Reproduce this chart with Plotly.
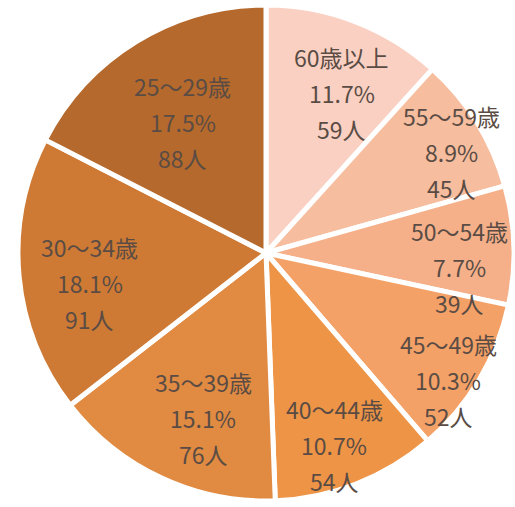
import math
import plotly.graph_objects as go

# Age groups, clockwise from 12 o'clock
groups = ["60歳以上", "55～59歳", "50～54歳", "45～49歳", "40～44歳", "35～39歳", "30～34歳", "25～29歳"]
counts = [59, 45, 39, 52, 54, 76, 91, 88]
colors = ["#F9D0C2", "#F6BD9E", "#F5B08A", "#F4A167", "#EE9446", "#E08A42", "#CE7A35", "#B5692C"]

# label placement: radius fraction and angular nudge (degrees) per slice
label_r = [0.714, 0.853, 0.784, 0.895, 0.821, 0.712, 0.72, 0.625]
label_da = [4.3, 3.3, 5.9, 4.2, 1.9, -4.1, -4.3, -1.0]

W, H = 515, 507
CX, CY, R = 266, 253, 248

fig = go.Figure(go.Pie(
    values=counts,
    labels=groups,
    sort=False,
    direction="clockwise",
    rotation=0,
    marker=dict(colors=colors, line=dict(color="white", width=5)),
    textinfo="none",
    hoverinfo="label+value+percent",
    domain=dict(x=[(CX - R) / W, (CX + R) / W], y=[(H - CY - R) / H, (H - CY + R) / H]),
))

total = sum(counts)
cum = 0
annotations = []
for g, c, rf, da in zip(groups, counts, label_r, label_da):
    mid = (cum + c / 2) / total * 360 + da
    cum += c
    a = math.radians(mid)
    px = CX + rf * R * math.sin(a)
    py = CY - rf * R * math.cos(a)
    lines = [g, f"{c / total * 100:.1f}%", f"{c}人"]
    for i, t in enumerate(lines):
        annotations.append(dict(
            x=px / W, y=(H - py) / H, xref="paper", yref="paper",
            xanchor="center", yanchor="middle",
            text=t, showarrow=False, yshift=(1 - i) * 36,
            font=dict(family="Noto Sans CJK JP", size=23, color="#5A4C44"),
        ))

fig.update_layout(
    width=W, height=H,
    margin=dict(l=0, r=0, t=0, b=0),
    paper_bgcolor="white",
    showlegend=False,
    annotations=annotations,
)

fig.write_html("out.html")
